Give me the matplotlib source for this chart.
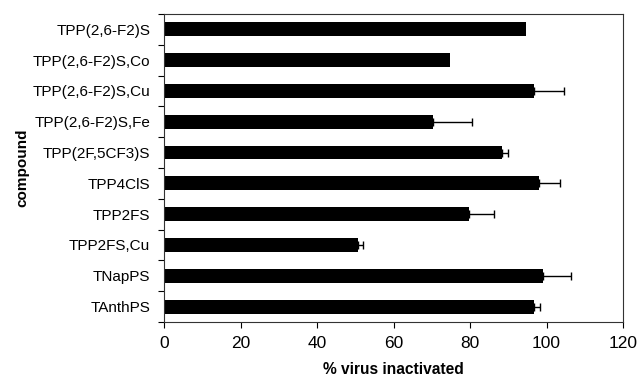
import matplotlib.pyplot as plt
import numpy as np

plt.rcParams['font.family'] = ['Liberation Sans', 'DejaVu Sans']

# compounds, top to bottom
compounds = ['TPP(2,6-F2)S', 'TPP(2,6-F2)S,Co', 'TPP(2,6-F2)S,Cu', 'TPP(2,6-F2)S,Fe',
             'TPP(2F,5CF3)S', 'TPP4ClS', 'TPP2FS', 'TPP2FS,Cu', 'TNapPS', 'TAnthPS']
inactivated = [94.5, 74.8, 96.6, 70.4, 88.3, 97.9, 79.8, 50.8, 99.2, 96.6]
err_plus = [0, 0, 8.0, 10.0, 1.5, 5.5, 6.5, 1.3, 7.2, 1.7]

fig = plt.figure(figsize=(6.41, 3.87), dpi=100)
ax = fig.add_axes([0.256, 0.168, 0.716, 0.796])

y = np.arange(len(compounds))
vals = np.array(inactivated)
errs = np.array(err_plus)
ax.barh(y, vals, height=0.45, color='black')

# one-sided error bars, only where there is an error
m = errs > 0
ax.errorbar(vals[m], y[m], xerr=[np.zeros(m.sum()), errs[m]], fmt='none',
            ecolor='black', elinewidth=1, capsize=3, capthick=1)

ax.set_xlim(0, 120)
ax.set_ylim(len(compounds) - 0.5, -0.5)
ax.set_xticks(np.arange(0, 121, 20))
ax.tick_params(axis='x', direction='out', length=4, width=0.8, labelsize=12.5, pad=6)

ax.set_yticks(y)
ax.set_yticklabels(compounds)
ax.tick_params(axis='y', which='major', length=0, labelsize=11, pad=10)
ax.set_yticks(np.arange(-0.5, len(compounds), 1), minor=True)
ax.tick_params(axis='y', which='minor', direction='out', length=4, width=0.8)

for s in ax.spines.values():
    s.set_linewidth(0.8)
    s.set_color('#333333')

ax.set_xlabel('% virus inactivated', fontsize=11.2, fontweight='bold', labelpad=8)
ax.set_ylabel('compound', fontsize=11, fontweight='bold', labelpad=2)

plt.savefig('out.png', dpi=100)
